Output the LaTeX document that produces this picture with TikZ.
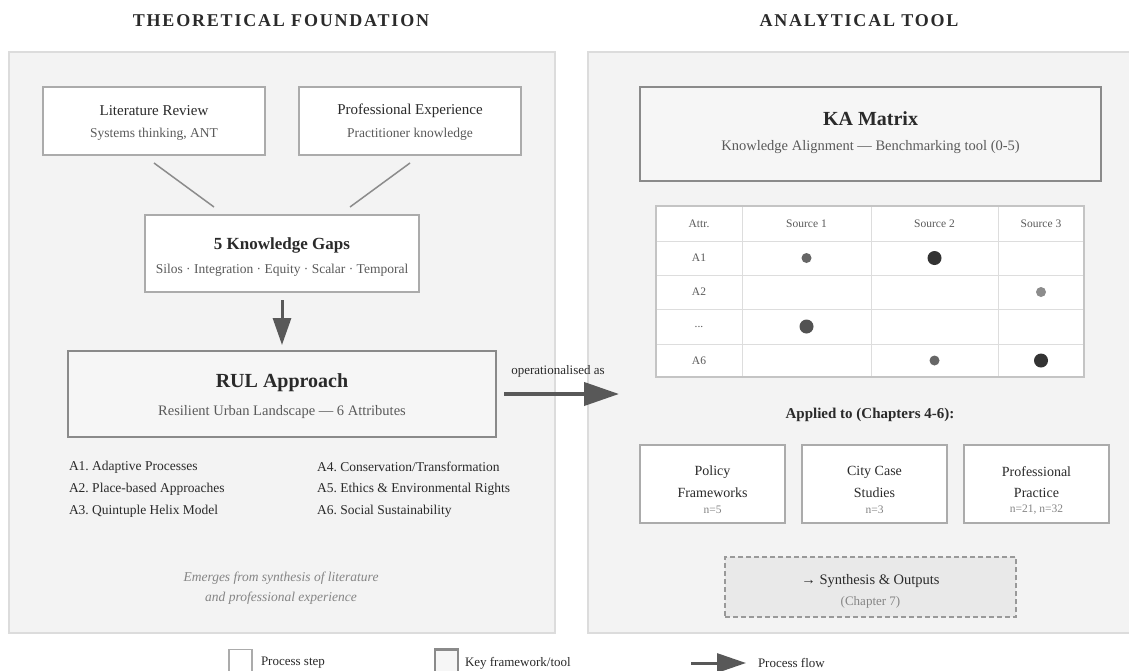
\documentclass[tikz,border=0pt]{standalone}
\usepackage{fontspec}
\setmainfont{Liberation Serif}
\usetikzlibrary{arrows.meta,calc}
\definecolor{panelfill}{HTML}{F3F3F3}
\definecolor{panelline}{HTML}{DCDCDC}
\definecolor{boxline}{HTML}{ABABAB}
\definecolor{keyline}{HTML}{8A8A8A}
\definecolor{keyfill}{HTML}{F6F6F6}
\definecolor{txtdark}{HTML}{2A2A2A}
\definecolor{txtmid}{HTML}{5A5A5A}
\definecolor{txtlight}{HTML}{858585}
\definecolor{flowcol}{HTML}{585858}
\definecolor{connline}{HTML}{8C8C8C}
\definecolor{gridline}{HTML}{DDDDDD}
\definecolor{tblline}{HTML}{C4C4C4}
\definecolor{synthfill}{HTML}{E9E9E9}
\definecolor{synthline}{HTML}{999999}
\definecolor{dotdark}{HTML}{333333}
\definecolor{dotmid}{HTML}{666666}
\definecolor{dotlight}{HTML}{8C8C8C}
\newcommand\myfs[1]{\fontsize{#1}{#1}\selectfont}
\frenchspacing
\tikzset{
  every node/.style={inner sep=0pt, outer sep=0pt},
  panel/.style={draw=panelline, fill=panelfill, line width=2pt},
  procbox/.style={draw=boxline, fill=white, line width=1.5pt},
  keybox/.style={draw=keyline, fill=keyfill, line width=2.6pt},
  headttl/.style={font=\bfseries\myfs{18}\addfontfeature{LetterSpace=10}, text=txtdark},
  boxttl/.style={font=\myfs{15}, text=txtdark},
  boxsub/.style={font=\myfs{13.5}, text=txtmid},
  midttl/.style={font=\bfseries\myfs{17}, text=txtdark},
  bigttl/.style={font=\bfseries\myfs{20}, text=txtdark},
  bigsub/.style={font=\myfs{14.5}, text=txtmid},
  attr/.style={font=\myfs{13.5}, text=txtdark, anchor=west},
  notetxt/.style={font=\itshape\myfs{13.5}, text=txtlight},
  celltxt/.style={font=\myfs{11.5}, text=txtmid},
  apptxt/.style={font=\myfs{14}, text=txtdark},
  nsub/.style={font=\myfs{11.5}, text=txtlight},
  legtxt/.style={font=\myfs{13}, text=txtdark, anchor=west},
  conn/.style={draw=connline, line width=1.5pt},
  flowarrow/.style={draw=flowcol, line width=3pt, -{Triangle[length=27pt,width=18pt]}},
  bigflow/.style={draw=flowcol, line width=4pt, -{Triangle[length=35pt,width=23pt]}},
  legflow/.style={draw=flowcol, line width=3pt, -{Triangle[length=29pt,width=19pt]}},
  grid/.style={draw=gridline, line width=1pt},
}
\begin{document}
\begin{tikzpicture}[x=1pt,y=-1pt]
\useasboundingbox (0,0) rectangle (1129,670);
\fill[white] (0,0) rectangle (1129,670);

% panels
\node[panel, minimum width=546pt, minimum height=581pt] (lpanel) at (282,342.5) {};
\node[panel, minimum width=546pt, minimum height=581pt] (rpanel) at (861,342.5) {};
\node[headttl] (ltitle) at (281,21) {THEORETICAL FOUNDATION};
\node[headttl] (rtitle) at (859,21) {ANALYTICAL TOOL};

% left side
\node[procbox, minimum width=222pt, minimum height=68pt] (lit) at (154,121) {};
\node[boxttl] (littl) at (154,111) {Literature Review};
\node[boxsub] (litsub) at (154,134) {Systems thinking, ANT};
\node[procbox, minimum width=222pt, minimum height=68pt] (prof) at (410,121) {};
\node[boxttl] (proftl) at (410,111) {Professional Experience};
\node[boxsub] (profsub) at (410,134) {Practitioner knowledge};

\node[procbox, minimum width=274pt, minimum height=77pt] (gaps) at (282,253.5) {};
\node[midttl] (gapstl) at (282,245) {5 Knowledge Gaps};
\node[boxsub] (gapssub) at (282,270) {Silos · Integration · Equity · Scalar · Temporal};

\draw[conn] ($(lit.south)+(0,8)$) -- ($(gaps.north)+(-68,-8)$);
\draw[conn] ($(prof.south)+(0,8)$) -- ($(gaps.north)+(68,-8)$);

\node[keybox, minimum width=428pt, minimum height=86pt] (rul) at (282,394) {};
\node[bigttl] (rultl) at (282,383) {RUL Approach};
\node[bigsub] (rulsub) at (282,412) {Resilient Urban Landscape — 6 Attributes};
\draw[flowarrow] ($(gaps.south)+(0,8)$) -- ($(rul.north)+(0,-6)$);

\node[attr] (a1) at (69,467) {A1. Adaptive Processes};
\node[attr] (a2) at (69,489) {A2. Place-based Approaches};
\node[attr] (a3) at (69,511) {A3. Quintuple Helix Model};
\node[attr] (a4) at (317,467) {A4. Conservation/Transformation};
\node[attr] (a5) at (317,489) {A5. Ethics \& Environmental Rights};
\node[attr] (a6) at (317,511) {A6. Social Sustainability};

\node[notetxt] (note1) at (281,578) {Emerges from synthesis of literature};
\node[notetxt] (note2) at (281,598) {and professional experience};

% operationalised arrow
\coordinate (opend) at (619,394);
\draw[bigflow] ($(rul.east)+(8,0)$) -- (opend);
\node[font=\myfs{13}, text=txtdark] (oplabel) at (558,371) {operationalised as};

% right side
\node[keybox, minimum width=461pt, minimum height=94pt] (ka) at (870.5,134) {};
\node[bigttl] (katl) at (870.5,119) {KA Matrix};
\node[bigsub] (kasub) at (870.5,147) {Knowledge Alignment — Benchmarking tool (0-5)};

% table
\node[draw=tblline, fill=white, line width=2pt, minimum width=428pt, minimum height=171pt] (tbl) at (870,291.5) {};
\draw[grid] (742,207) -- (742,376);
\draw[grid] (871,207) -- (871,376);
\draw[grid] (998,207) -- (998,376);
\draw[grid] (657,241) -- (1083,241);
\draw[grid] (657,275) -- (1083,275);
\draw[grid] (657,309) -- (1083,309);
\draw[grid] (657,344) -- (1083,344);
\node[celltxt] (hattr) at (699,223.5) {Attr.};
\node[celltxt] (hs1) at (806.5,223.5) {Source 1};
\node[celltxt] (hs2) at (934.5,223.5) {Source 2};
\node[celltxt] (hs3) at (1041,223.5) {Source 3};
\node[celltxt] (ra1) at (699,258) {A1};
\node[celltxt] (ra2) at (699,292) {A2};
\node[celltxt] (ra3) at (699,326.5) {...};
\node[celltxt] (ra6) at (699,360.5) {A6};
\fill[dotmid] (806.5,258) circle (5pt);
\fill[dotdark] (934.5,258) circle (7pt);
\fill[dotlight] (1041,292) circle (5pt);
\fill[dotdark!85!white] (806.5,326.5) circle (7pt);
\fill[dotmid] (934.5,360.5) circle (5pt);
\fill[dotdark] (1041,360.5) circle (7pt);

\node[font=\bfseries\myfs{15}, text=txtdark] (applied) at (870,415) {Applied to (Chapters 4-6):};

\node[procbox, minimum width=145pt, minimum height=78pt] (pol) at (712.5,484) {};
\node[apptxt] (pol1) at (712.5,472) {Policy};
\node[apptxt] (pol2) at (712.5,493) {Frameworks};
\node[nsub] (pol3) at (712.5,510) {n=5};
\node[procbox, minimum width=145pt, minimum height=78pt] (city) at (874.5,484) {};
\node[apptxt] (city1) at (874.5,472) {City Case};
\node[apptxt] (city2) at (874.5,493) {Studies};
\node[nsub] (city3) at (874.5,510) {n=3};
\node[procbox, minimum width=145pt, minimum height=78pt] (prac) at (1036.5,484) {};
\node[apptxt] (prac1) at (1036.5,472) {Professional};
\node[apptxt] (prac2) at (1036.5,493) {Practice};
\node[nsub] (prac3) at (1036.5,510) {n=21, n=32};

\node[draw=synthline, fill=synthfill, line width=1.5pt, dash pattern=on 5pt off 3pt, minimum width=291pt, minimum height=60pt] (synth) at (870.5,587) {};
\node[font=\myfs{14.5}, text=txtdark] (synth1) at (870.5,581) {→ Synthesis \& Outputs};
\node[font=\myfs{13}, text=txtlight] (synth2) at (870.5,602) {(Chapter 7)};

% legend
\node[draw=boxline, fill=white, line width=1.5pt, minimum width=23pt, minimum height=23pt] (lg1) at (240.5,661) {};
\node[legtxt] (lg1t) at (261,663) {Process step};
\node[draw=keyline, fill=keyfill, line width=2.6pt, minimum width=23pt, minimum height=23pt] (lg2) at (446.5,661) {};
\node[legtxt] (lg2t) at (465,663) {Key framework/tool};
\coordinate (lg3a) at (691,663);
\coordinate (lg3b) at (746,663);
\draw[legflow] (lg3a) -- (lg3b);
\node[legtxt] (lg3t) at (758,663) {Process flow};
\end{tikzpicture}
\end{document}
